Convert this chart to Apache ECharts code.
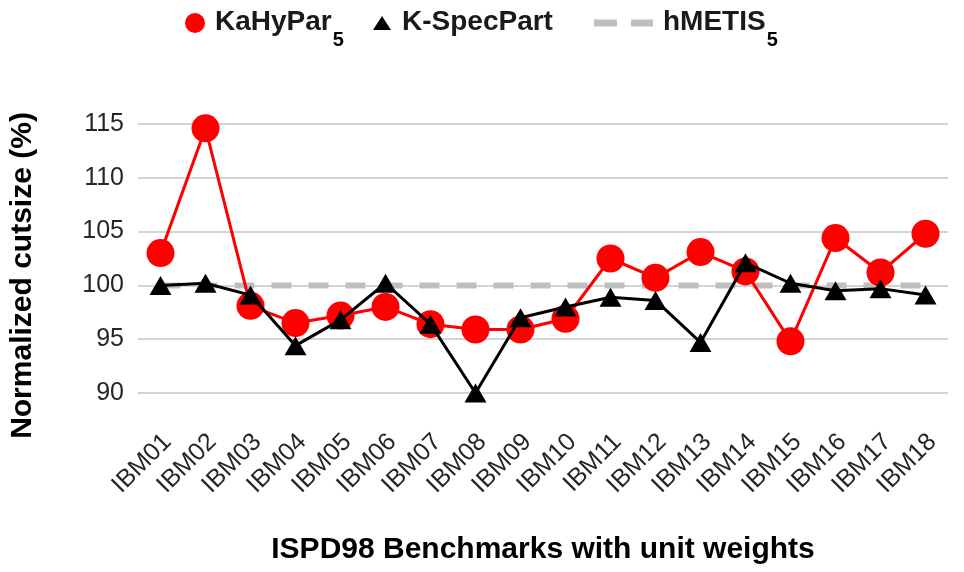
<!DOCTYPE html>
<html>
<head>
<meta charset="utf-8">
<script src="https://cdn.jsdelivr.net/npm/echarts@6/dist/echarts.min.js"></script>
<style>
  html, body { margin: 0; padding: 0; background: #fff; }
  #chart { width: 964px; height: 572px; }
</style>
</head>
<body>
<div id="chart"></div>
<script>
// 数据
var benchmarks = ['IBM01', 'IBM02', 'IBM03', 'IBM04', 'IBM05', 'IBM06', 'IBM07', 'IBM08', 'IBM09',
    'IBM10', 'IBM11', 'IBM12', 'IBM13', 'IBM14', 'IBM15', 'IBM16', 'IBM17', 'IBM18'];
var kahypar = [103.0, 114.6, 98.1, 96.5, 97.2, 98.0, 96.4, 95.9, 95.9,
    96.9, 102.5, 100.7, 103.1, 101.3, 94.8, 104.4, 101.2, 104.8];
var kspecpart = [100.0, 100.2, 99.1, 94.4, 96.8, 100.2, 96.4, 90.0, 97.0,
    98.0, 98.9, 98.6, 94.7, 102.1, 100.2, 99.5, 99.7, 99.1];
var hmetis = [100, 100, 100, 100, 100, 100, 100, 100, 100,
    100, 100, 100, 100, 100, 100, 100, 100, 100];
var yTicks = [90, 95, 100, 105, 110, 115];

var FONT = '"Liberation Sans", Arial, sans-serif';

var chart = echarts.init(document.getElementById('chart'));

// 图例文字：带下标的 rich text
function legendRich(padLeft) {
    return {
        b: { fontSize: 28, fontWeight: 'bold', color: '#1a1a1a', fontFamily: FONT,
             lineHeight: 30, padding: [0, 0, 0, padLeft], verticalAlign: 'top' },
        s: { fontSize: 20, fontWeight: 'bold', color: '#000', fontFamily: FONT,
             lineHeight: 20, padding: [22, 0, 0, 1], verticalAlign: 'top' }
    };
}

var option = {
    animation: false,
    backgroundColor: '#fff',
    legend: [{
        left: 180, top: 3,
        itemWidth: 20, itemHeight: 20,
        data: [{ name: 'KaHyPar', icon: 'circle' }],
        formatter: function () { return '{b|KaHyPar}{s|5}'; },
        textStyle: { rich: legendRich(5) }
    }, {
        left: 368, top: 3,
        itemWidth: 18, itemHeight: 14,
        data: [{ name: 'K-SpecPart', icon: 'triangle' }],
        formatter: function () { return '{b|K-SpecPart}'; },
        textStyle: { rich: legendRich(6) }
    }, {
        left: 589, top: 3,
        itemWidth: 59, itemHeight: 7,
        data: [{
            name: 'hMETIS',
            icon: 'path://M0,0L23,0L23,7L0,7ZM37,0L59,0L59,7L37,7Z',
            itemStyle: { color: '#bfbfbf' }
        }],
        formatter: function () { return '{b|hMETIS}{s|5}'; },
        textStyle: { rich: legendRich(5) }
    }],
    grid: {
        left: 138,
        right: 16,
        top: 124,
        bottom: 179
    },
    xAxis: {
        type: 'category',
        data: benchmarks,
        boundaryGap: true,
        name: 'ISPD98 Benchmarks with unit weights',
        nameLocation: 'middle',
        nameGap: 142,
        nameTextStyle: { fontSize: 30, fontWeight: 'bold', color: '#000', fontFamily: FONT },
        axisLine: { show: false },
        axisTick: { show: false },
        axisLabel: {
            rotate: 45,
            interval: 0,
            margin: 38,
            fontSize: 25,
            lineHeight: 20,
            color: '#262626',
            fontFamily: FONT,
            verticalAlign: 'top'
        }
    },
    yAxis: {
        type: 'value',
        min: yTicks[0],
        max: yTicks[yTicks.length - 1],
        interval: 5,
        name: 'Normalized cutsize (%)',
        nameLocation: 'middle',
        nameGap: 100,
        nameTextStyle: { fontSize: 30, fontWeight: 'bold', color: '#000', fontFamily: FONT,
                         padding: [0, 34, 0, 0] },
        axisLine: { show: false },
        axisTick: { show: false },
        axisLabel: { fontSize: 25, color: '#262626', fontFamily: FONT, margin: 14 },
        splitLine: { lineStyle: { color: '#d4d4d4', width: 2 } }
    },
    series: [{
        name: 'hMETIS',
        type: 'line',
        data: hmetis,
        showSymbol: false,
        symbol: 'none',
        lineStyle: { color: '#bfbfbf', width: 6, type: [20, 17] },
        itemStyle: { color: '#bfbfbf' },
        z: 2
    }, {
        name: 'KaHyPar',
        type: 'line',
        data: kahypar,
        symbol: 'circle',
        symbolSize: 28,
        lineStyle: { color: '#f00', width: 3 },
        itemStyle: { color: '#f00' },
        z: 3
    }, {
        name: 'K-SpecPart',
        type: 'line',
        data: kspecpart,
        symbol: 'triangle',
        symbolSize: [22, 19],
        lineStyle: { color: '#000', width: 3 },
        itemStyle: { color: '#000' },
        z: 4
    }]
};

chart.setOption(option);
</script>
</body>
</html>
